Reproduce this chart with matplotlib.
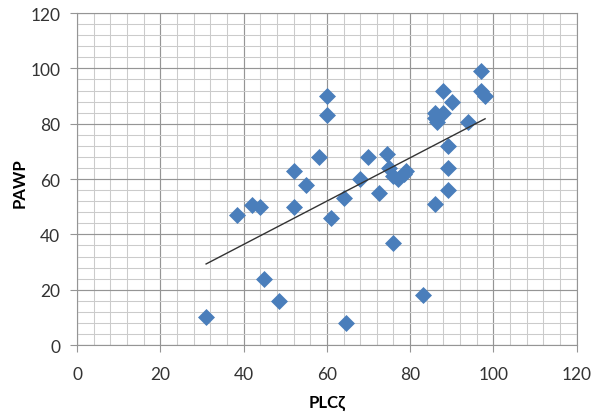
import matplotlib.pyplot as plt
import numpy as np
from matplotlib.ticker import MultipleLocator

# PLCζ vs PAWP values
plc = [31, 38.5, 42, 44, 45, 48.5, 52, 52, 55, 58, 60, 60, 61, 64.5, 64,
       68, 70, 72.5, 74.5, 75, 76, 76, 77, 78.5, 79, 83, 86, 86, 86.5, 86,
       88, 88, 90, 89, 89, 89, 94, 97, 97, 98]
pawp = [10, 47, 50.5, 50, 24, 16, 50, 63, 58, 68, 90, 83, 46, 8, 53,
        60, 68, 55, 69, 64, 61, 37, 60, 62, 63, 18, 51, 84, 80.5, 82,
        92, 84, 88, 72, 64, 56, 80.5, 99, 92, 90]

plt.rcParams['font.family'] = ['Lato', 'DejaVu Sans']

fig, ax = plt.subplots(figsize=(5.97, 4.14), dpi=100)
fig.subplots_adjust(left=0.129, right=0.966, top=0.966, bottom=0.164)

# grid: major every 20, minor every 4
ax.xaxis.set_major_locator(MultipleLocator(20))
ax.yaxis.set_major_locator(MultipleLocator(20))
ax.xaxis.set_minor_locator(MultipleLocator(4))
ax.yaxis.set_minor_locator(MultipleLocator(4))
ax.grid(which='major', color='#959595', linewidth=0.85)
ax.grid(which='minor', color='#cbcbcb', linewidth=0.75)
ax.set_axisbelow(True)

ax.scatter(plc, pawp, marker='D', s=75, color='#4a7ebb', zorder=3, linewidths=0)

# linear trendline
slope, intercept = np.polyfit(plc, pawp, 1)
xs = np.array([min(plc), max(plc)])
ax.plot(xs, slope * xs + intercept, color='#333333', linewidth=1, zorder=4)

ax.set_xlim(0, 120)
ax.set_ylim(0, 120)
for s in ax.spines.values():
    s.set_color('#959595')
ax.tick_params(which='major', direction='out', length=5, color='#959595',
               labelsize=12.5, labelcolor='#333333')
ax.tick_params(axis='x', which='major', pad=10)
ax.tick_params(axis='y', which='major', pad=7)
ax.tick_params(which='minor', length=0)

ax.set_xlabel('PLCζ', fontsize=12, fontweight='bold', va='center')
ax.set_ylabel('PAWP', fontsize=12, fontweight='bold', va='center')
ax.xaxis.set_label_coords(0.5, -0.172)
ax.yaxis.set_label_coords(-0.114, 0.49)

fig.savefig('out.png', dpi=100)
